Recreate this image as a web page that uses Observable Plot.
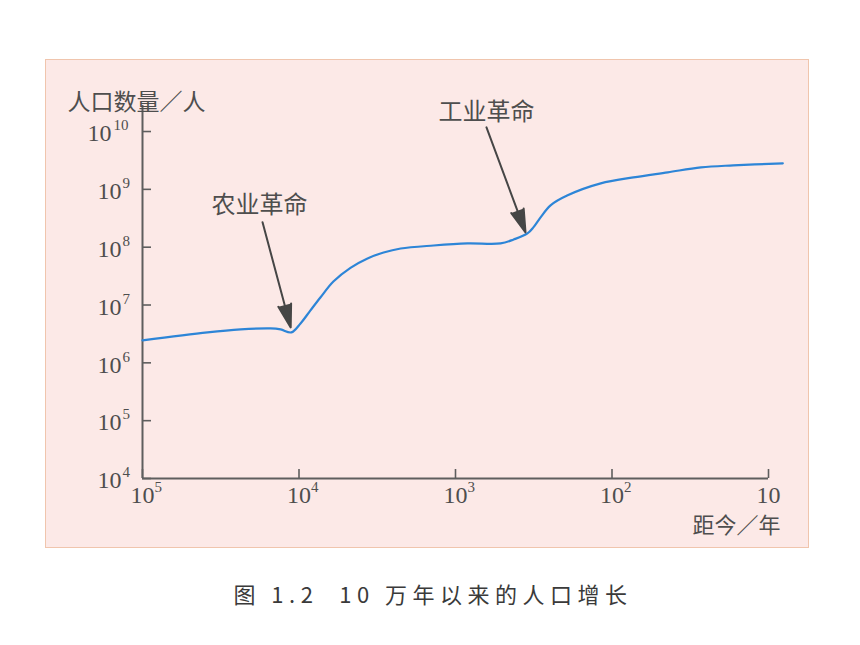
<!DOCTYPE html>
<html><head><meta charset="utf-8">
<script src="https://cdn.jsdelivr.net/npm/d3@7"></script>
<script src="https://cdn.jsdelivr.net/npm/@observablehq/plot@0.6"></script>
<style>
html,body{margin:0;padding:0;background:#fff;}
#wrap{position:relative;width:860px;height:645px;overflow:hidden;background:#fff;}
#panel{position:absolute;left:45px;top:59px;width:762px;height:487px;background:#fce9e7;border:1.5px solid #f0c5ad;}
#chart{position:absolute;left:0;top:0;}
#caption{position:absolute;left:0;width:866px;top:578px;line-height:30px;text-align:center;font-family:"Noto Sans CJK SC",sans-serif;font-size:22px;letter-spacing:5.5px;color:#3a3a3a;font-weight:normal;}
</style></head>
<body><div id="wrap"><div id="panel"></div><div id="chart"></div><div id="caption">图 1.2&nbsp; 10 万年以来的人口增长</div></div>
<script>
// Population curve (years before present, population)
const yearsAgo   = [100000, 38400, 23600, 15200, 13100, 11200, 9780, 8450, 7300, 6030, 4690, 3650, 2880, 2240, 1380, 838, 515, 425, 347, 318, 286, 247, 192, 118, 73, 44, 27, 16.8, 8.1];
const population = [2.44e6, 3.36e6, 3.78e6, 3.94e6, 3.78e6, 3.36e6, 4.8e6, 8.07e6, 1.35e7, 2.55e7, 4.4e7, 6.4e7, 8.1e7, 9.5e7, 1.07e8, 1.16e8, 1.16e8, 1.36e8, 1.73e8, 2.2e8, 3.28e8, 5.3e8, 7.9e8, 1.27e9, 1.61e9, 1.97e9, 2.4e9, 2.6e9, 2.82e9];

// Axis ticks
const yExponents = [4, 5, 6, 7, 8, 9, 10];
const xTickYears = [100000, 10000, 1000, 100, 10];
const xExponents = [5, 4, 3, 2, 1];

// Annotations
const annoLabels     = ["农业革命", "工业革命"];
const annoLabelYear  = [17900, 634];
const annoLabelPop   = [5.3e8, 2.15e10];
const arrowFromYear  = [17100, 634];
const arrowFromPop   = [2.69e8, 1.18e10];
const arrowToYear    = [11300, 357];
const arrowToPop     = [4.1e6, 1.8e8];

const yAxisTitle = "人口数量／人";
const xAxisTitle = "距今／年";

const data = yearsAgo.map((t, i) => ({t, p: population[i]}));
const annos = annoLabels.map((label, i) => ({
  label, tx: annoLabelYear[i], ty: annoLabelPop[i],
  x1: arrowFromYear[i], y1: arrowFromPop[i], x2: arrowToYear[i], y2: arrowToPop[i]
}));
const xTicks = xTickYears.map((v, i) => ({v, e: xExponents[i]}));

const yTop = 10 ** 10.45;
const serif = "'Liberation Serif', 'DejaVu Serif', serif";
const cjk = "'Noto Sans CJK SC', sans-serif";
const axisColor = "#5e5e5e";
const textColor = "#4e4e4e";

const chart = Plot.plot({
  width: 860, height: 560,
  marginLeft: 142, marginRight: 92, marginTop: 105, marginBottom: 82,
  style: {background: "transparent", fontFamily: serif, overflow: "visible"},
  x: {type: "log", domain: [100000, 10], axis: null},
  y: {type: "log", domain: [1e4, yTop], axis: null},
  marks: [
    // axis lines
    Plot.ruleX([100000], {x: d => d, y1: 1e4, y2: yTop, stroke: axisColor, strokeWidth: 2}),
    Plot.ruleY([1e4], {y: d => d, x1: 100000, x2: 10, stroke: axisColor, strokeWidth: 2}),
    // ticks (inward)
    Plot.ruleY(yExponents, {y: e => 10 ** e, x1: 100000, x2: 100000, insetRight: -9, stroke: axisColor, strokeWidth: 1.6}),
    Plot.ruleX(xTickYears, {x: d => d, y1: 1e4, y2: 1e4, insetTop: -9, stroke: axisColor, strokeWidth: 1.6}),
    // y tick labels
    Plot.text(yExponents, {filter: e => e < 10, x: 100000, y: e => 10 ** e, text: () => "10", textAnchor: "end", dx: -21, dy: 2, fontSize: 24, fill: textColor}),
    Plot.text(yExponents, {filter: e => e < 10, x: 100000, y: e => 10 ** e, text: e => String(e), textAnchor: "start", dx: -20, dy: -6, fontSize: 15, fill: textColor}),
    Plot.text(yExponents, {filter: e => e >= 10, x: 100000, y: e => 10 ** e, text: () => "10", textAnchor: "end", dx: -31, dy: 2, fontSize: 24, fill: textColor}),
    Plot.text(yExponents, {filter: e => e >= 10, x: 100000, y: e => 10 ** e, text: e => String(e), textAnchor: "start", dx: -29, dy: -6, fontSize: 15, fill: textColor}),
    // x tick labels
    Plot.text(xTicks, {x: "v", y: 1e4, text: () => "10", textAnchor: "middle", dy: 17, fontSize: 24, fill: textColor}),
    Plot.text(xTicks, {filter: d => d.e > 1, x: "v", y: 1e4, text: d => String(d.e), textAnchor: "start", dx: 12, dy: 9, fontSize: 15, fill: textColor}),
    // axis titles
    Plot.text([yAxisTitle], {frameAnchor: "top-left", text: d => d, textAnchor: "start", dx: -75, dy: -12, fontFamily: cjk, fontSize: 23, fill: textColor}),
    Plot.text([xAxisTitle], {frameAnchor: "bottom-right", text: d => d, textAnchor: "end", dx: 12, dy: 54, fontFamily: cjk, fontSize: 22, fill: textColor}),
    // population curve
    Plot.line(data, {x: "t", y: "p", stroke: "#2d85d7", strokeWidth: 2.2, curve: "catmull-rom"}),
    // annotation arrows and labels
    Plot.arrow(annos, {x1: "x1", y1: "y1", x2: "x2", y2: "y2", stroke: "#464646", fill: "#464646", strokeWidth: 2, headLength: 18, headAngle: 32}),
    Plot.text(annos, {x: "tx", y: "ty", text: "label", fontFamily: cjk, fontSize: 24, fill: textColor})
  ]
});
document.getElementById("chart").appendChild(chart);
</script>
</body></html>
